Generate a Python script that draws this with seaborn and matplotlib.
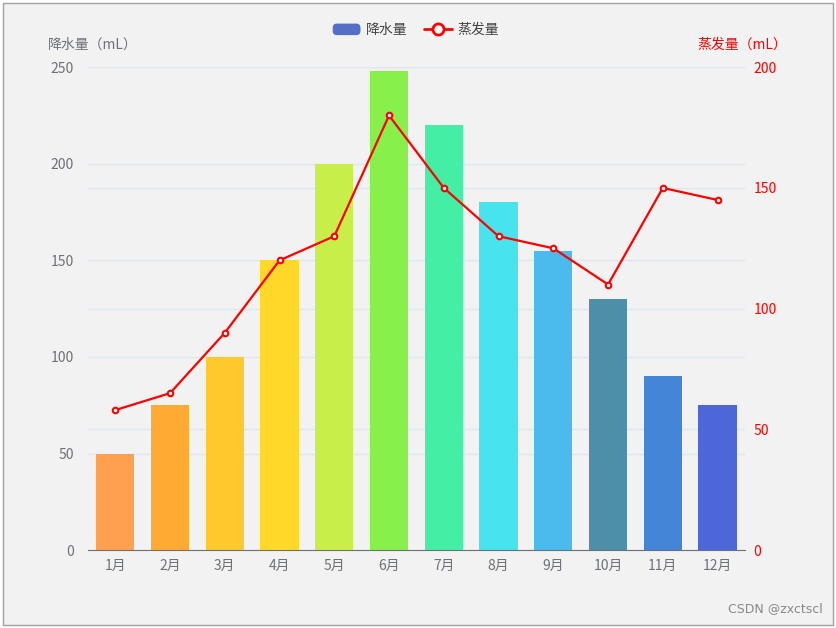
import matplotlib
matplotlib.use("Agg")
import matplotlib.pyplot as plt
import seaborn as sns
import pandas as pd
import numpy as np
from matplotlib.patches import Rectangle, FancyBboxPatch
from matplotlib.lines import Line2D
from matplotlib.legend_handler import HandlerPatch

months = ['1月', '2月', '3月', '4月', '5月', '6月', '7月', '8月', '9月', '10月', '11月', '12月']
rain = [50, 75, 100, 150, 200, 248, 220, 180, 155, 130, 90, 75]
evap = [58, 65, 90, 120, 130, 180, 150, 130, 125, 110, 150, 145]
bar_colors = ['#ffa050', '#ffaa33', '#ffc82d', '#ffd82a', '#c8ef48', '#88f04a',
              '#45eea5', '#48e4ed', '#4bbaed', '#4d8ea8', '#4485d8', '#4d66d8']
rain_ticks = [0, 50, 100, 150, 200, 250]
evap_ticks = [0, 50, 100, 150, 200]

sns.set_style("white")
plt.rcParams['font.family'] = ['Noto Sans CJK SC', 'DejaVu Sans']

df = pd.DataFrame({'month': months, 'rain': rain, 'evap': evap})

fig = plt.figure(figsize=(8.37, 6.28), dpi=100, facecolor='white')
fig.patches.append(Rectangle((0.003, 0.005), 0.992, 0.99, transform=fig.transFigure,
                             facecolor='#f2f2f2', edgecolor='#a0a0a0', linewidth=1, zorder=-10))
ax = fig.add_axes([0.105, 0.124, 0.785, 0.769])
ax.set_facecolor('none')

grey = '#6e7079'
grid_c = '#e0e6f1'
sns.barplot(data=df, x='month', y='rain', hue='month', palette=bar_colors,
            legend=False, width=0.7, ax=ax, saturation=1, linewidth=0, zorder=2)
ax.set_xlim(-0.5, 11.5)
ax.set_ylim(0, 250)
ax.set_yticks(rain_ticks)
ax.set_xlabel('')
ax.set_ylabel('')
ax.grid(axis='y', color=grid_c, linewidth=1, zorder=0)
ax.set_axisbelow(True)
# right-axis gridlines, drawn on the left axes so they stay behind the bars
for v in evap_ticks[1:]:
    ax.axhline(v * 250 / 200, color=grid_c, linewidth=1, zorder=0)
for s in ['top', 'right', 'left']:
    ax.spines[s].set_visible(False)
ax.spines['bottom'].set_color(grey)
ax.tick_params(axis='y', length=0, labelcolor=grey, labelsize=10, pad=10)
ax.tick_params(axis='x', which='major', length=0, labelcolor=grey, labelsize=10, pad=6)
ax.set_xticks(np.arange(-0.5, 12, 1), minor=True)
ax.tick_params(axis='x', which='minor', length=5, color=grey)

ax2 = ax.twinx()
sns.lineplot(x=np.arange(12), y=evap, ax=ax2, color='red', linewidth=1.6,
             marker='o', markersize=4, markerfacecolor='white',
             markeredgecolor='red', markeredgewidth=1.5, zorder=5)
ax2.set_ylim(0, 200)
ax2.set_yticks(evap_ticks)
ax2.grid(False)
for s in ['top', 'right', 'left', 'bottom']:
    ax2.spines[s].set_visible(False)
ax2.tick_params(axis='y', length=0, labelcolor='red', labelsize=10, pad=6)

fig.text(0.057, 0.918, '降水量（mL）', color=grey, fontsize=10, ha='left', va='bottom')
fig.text(0.940, 0.918, '蒸发量（mL）', color='red', fontsize=10, ha='right', va='bottom')
fig.text(0.983, 0.020, 'CSDN @zxctscl', color='#888888', fontsize=9, ha='right', va='bottom',
         family=['DejaVu Sans'])


class RoundHandler(HandlerPatch):
    def create_artists(self, legend, orig_handle, xdescent, ydescent, width, height, fontsize, trans):
        p = FancyBboxPatch((-xdescent, -ydescent), width, height,
                           boxstyle='round,pad=0,rounding_size=3',
                           facecolor='#5470c6', edgecolor='none', transform=trans)
        return [p]


bar_h = Rectangle((0, 0), 1, 1, facecolor='#5470c6')
line_h = Line2D([], [], color='red', linewidth=2, marker='o', markersize=8,
                markerfacecolor='white', markeredgecolor='red', markeredgewidth=2)
leg = fig.legend([bar_h, line_h], ['降水量', '蒸发量'], loc='center', bbox_to_anchor=(0.497, 0.952),
                 ncol=2, frameon=False, fontsize=10, handlelength=2.0, handleheight=0.9,
                 columnspacing=1.2, handletextpad=0.4,
                 handler_map={Rectangle: RoundHandler()})
for t in leg.get_texts():
    t.set_color('#444444')

fig.savefig('out.png', dpi=100, facecolor='white')
